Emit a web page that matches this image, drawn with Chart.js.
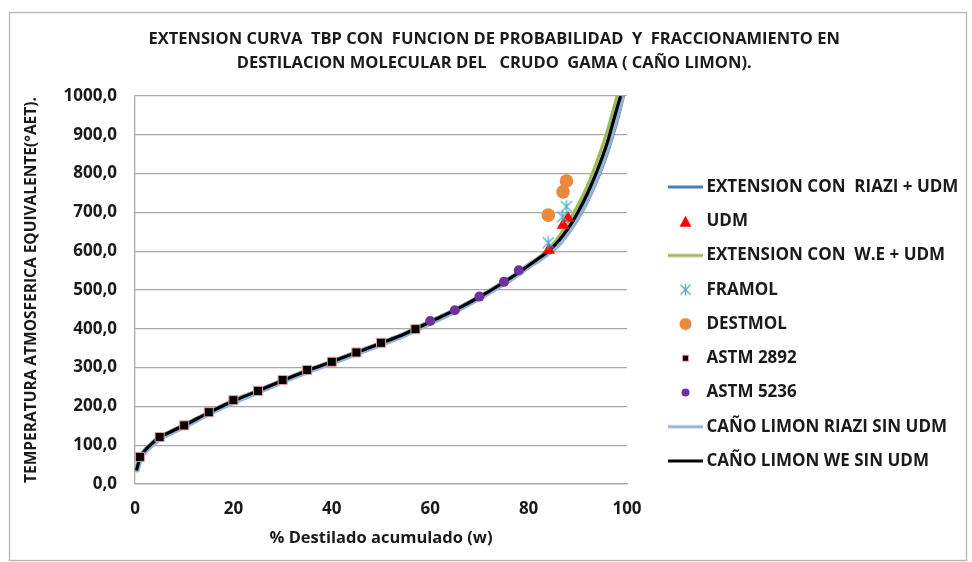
<!DOCTYPE html>
<html>
<head>
<meta charset="utf-8">
<script src="https://cdn.jsdelivr.net/npm/chart.js@4/dist/chart.umd.min.js"></script>
<style>
  html, body { margin: 0; padding: 0; background: #fff; }
  #wrap { width: 972px; height: 562px; position: relative; }
</style>
</head>
<body>
<div id="wrap"><canvas id="chart" width="972" height="562"></canvas></div>
<script>
// ---- Text ----
const titleLines = [
  'EXTENSION CURVA  TBP CON  FUNCION DE PROBABILIDAD  Y  FRACCIONAMIENTO EN',
  'DESTILACION MOLECULAR DEL   CRUDO  GAMA ( CAÑO LIMON).'
];
const xAxisTitle = '% Destilado acumulado (w)';
const yAxisTitle = 'TEMPERATURA ATMOSFERICA EQUIVALENTE(°AET).';
const seriesNames = [
  'EXTENSION CON  RIAZI + UDM',
  'UDM',
  'EXTENSION CON  W.E + UDM',
  'FRAMOL',
  'DESTMOL',
  'ASTM 2892',
  'ASTM 5236',
  'CAÑO LIMON RIAZI SIN UDM',
  'CAÑO LIMON WE SIN UDM'
];

// ---- Axis ranges / ticks ----
const xTicks = [0, 20, 40, 60, 80, 100];
const yTicks = [0, 100, 200, 300, 400, 500, 600, 700, 800, 900, 1000];

// ---- Curves (% destilado, °C AET) ----
const riaziUdmX = [0.3, 1, 2, 3, 5, 7.5, 10, 15, 20, 25, 30, 35, 40, 45, 50, 55, 60, 65, 70, 75, 78, 80, 82, 84, 86, 88, 90, 92, 94, 96, 98, 99.3];
const riaziUdmT = [33, 64, 84, 97, 118, 134, 149, 182, 212, 238, 265, 290, 313, 337, 361, 386, 415, 445, 479, 516, 541, 560, 576, 593, 614, 645, 682, 728, 785, 852, 935, 1000];

const weUdmX = [0.3, 1, 2, 3, 5, 7.5, 10, 15, 20, 25, 30, 35, 40, 45, 50, 55, 60, 65, 70, 75, 78, 80, 82, 84, 86, 88, 89, 90, 92, 94, 96, 97, 98];
const weUdmT = [30, 67, 88, 101, 122, 138, 153, 186, 216, 242, 269, 294, 317, 341, 365, 390, 420, 450, 484, 522, 547, 566, 584, 605, 635, 673, 695, 718, 770, 835, 910, 955, 1000];

const riaziSinX = [0.3, 1, 2, 3, 5, 7.5, 10, 15, 20, 25, 30, 35, 40, 45, 50, 55, 60, 65, 70, 75, 78, 80, 82, 84, 86, 88, 90, 92, 94, 96, 97, 98, 99];
const riaziSinT = [33, 64, 84, 97, 118, 134, 149, 182, 212, 238, 265, 290, 313, 337, 361, 386, 416, 446, 480, 518, 543, 562, 578, 596, 618, 650, 690, 738, 797, 868, 910, 955, 1000];

const weSinX = [0.3, 1, 2, 3, 5, 7.5, 10, 15, 20, 25, 30, 35, 40, 45, 50, 55, 60, 65, 70, 75, 78, 80, 82, 84, 86, 88, 90, 92, 94, 96, 97, 98, 98.7];
const weSinT = [35, 66, 86, 99, 120, 136, 151, 184, 214, 240, 267, 292, 315, 339, 363, 388, 418, 448, 482, 520, 545, 563, 581, 600, 625, 658, 700, 750, 810, 880, 925, 970, 1000];

// ---- Measured points ----
const udmX = [84.1, 87, 88];
const udmT = [603, 667, 685];
const framolX = [84, 86.9, 87.7];
const framolT = [622, 689, 715];
const destmolX = [84, 87, 87.7];
const destmolT = [693, 753, 781];
const astm2892X = [1, 5, 10, 15, 20, 25, 30, 35, 40, 45, 50, 57];
const astm2892T = [70, 121, 151, 185, 216, 240, 268, 294, 315, 339, 364, 399];
const astm5236X = [60, 65, 70, 75, 78];
const astm5236T = [420, 448, 483, 521, 551];

const pts = (xs, ys) => xs.map((x, i) => ({ x: x, y: ys[i] }));

// ---- Styling ----
const FONT = '"Open Sans"';
const TEXT = '#1a1a1a';
const GRID = '#a8a8a8';
const C_RIAZI = '#4a7ebb';
const C_WE = '#9bbb59';
const C_RIAZI_SIN = '#95b3d7';
const C_WE_SIN = '#000000';
const C_UDM = '#ff0000';
const C_FRAMOL = '#4bacc6';
const C_DESTMOL = '#e8893c';
const C_2892_FILL = '#000000';
const C_2892_EDGE = '#e3a09e';
const C_5236 = '#7030a0';

function icon(w, h, paint) {
  const c = document.createElement('canvas');
  c.width = w; c.height = h;
  paint(c.getContext('2d'), w, h);
  return c;
}
function lineIcon(color, width) {
  return icon(35, 8, (g, w, h) => {
    g.strokeStyle = color; g.lineWidth = width;
    g.beginPath(); g.moveTo(0, h / 2); g.lineTo(w, h / 2); g.stroke();
  });
}
function asteriskIcon(size, color) {
  return icon(size, size, (g, w, h) => {
    g.strokeStyle = color; g.lineWidth = 1.3;
    const m = 1.5;
    g.beginPath();
    g.moveTo(m, m); g.lineTo(w - m, h - m);
    g.moveTo(w - m, m); g.lineTo(m, h - m);
    g.moveTo(w / 2, 0.5); g.lineTo(w / 2, h - 0.5);
    g.stroke();
  });
}
function triangleIcon(size, color) {
  return icon(size, size, (g, w, h) => {
    g.fillStyle = color;
    g.beginPath(); g.moveTo(w / 2, 1); g.lineTo(w - 0.5, h - 1); g.lineTo(0.5, h - 1); g.closePath(); g.fill();
  });
}
function circleIcon(size, color) {
  return icon(size, size, (g, w, h) => {
    g.fillStyle = color;
    g.beginPath(); g.arc(w / 2, h / 2, w / 2 - 0.5, 0, Math.PI * 2); g.fill();
  });
}
function squareIcon(size, fill, edge) {
  return icon(size, size, (g, w, h) => {
    g.fillStyle = fill; g.fillRect(1, 1, w - 2, h - 2);
    g.strokeStyle = edge; g.lineWidth = 1; g.strokeRect(1.5, 1.5, w - 3, h - 3);
  });
}

const framolMarker = asteriskIcon(14, C_FRAMOL);
const legendIcons = [
  lineIcon(C_RIAZI, 3),
  triangleIcon(13, C_UDM),
  lineIcon(C_WE, 3),
  asteriskIcon(13, C_FRAMOL),
  circleIcon(13, C_DESTMOL),
  squareIcon(9, C_2892_FILL, C_2892_EDGE),
  circleIcon(9, C_5236),
  lineIcon(C_RIAZI_SIN, 3),
  lineIcon(C_WE_SIN, 3)
];

// Legend font and right padding so the legend column sits at a fixed place
const LEGEND_SIZE = 17;
const measure = document.createElement('canvas').getContext('2d');
measure.font = `bold ${LEGEND_SIZE}px ${FONT}`;
const longest = Math.max(...seriesNames.map(s => measure.measureText(s).width));
const LEG_PAD = 17.25;
const LEG_BOX = 25;
const legendWidth = LEG_PAD + LEG_BOX + LEGEND_SIZE / 2 + longest + 10;
const legendLeft = 655.75;
const rightPad = 972 - legendLeft - legendWidth;

const lineBase = { showLine: true, pointRadius: 0, pointHoverRadius: 0, fill: false, cubicInterpolationMode: 'monotone' };

const outerFrame = {
  id: 'outerFrame',
  beforeDraw(chart) {
    const g = chart.ctx;
    g.save();
    g.fillStyle = '#ffffff';
    g.fillRect(0, 0, chart.width, chart.height);
    g.strokeStyle = '#b4b4b4';
    g.lineWidth = 1.3;
    g.strokeRect(9.5, 12.5, 957, 548);
    g.restore();
  }
};

new Chart(document.getElementById('chart'), {
  type: 'scatter',
  data: {
    datasets: [
      { ...lineBase, label: seriesNames[0], data: pts(riaziUdmX, riaziUdmT), borderColor: C_RIAZI, borderWidth: 3, order: 14 },
      { label: seriesNames[1], data: pts(udmX, udmT), pointStyle: 'triangle', pointRadius: 7.3, backgroundColor: C_UDM, borderColor: C_UDM, borderWidth: 0, order: 5 },
      { ...lineBase, label: seriesNames[2], data: pts(weUdmX, weUdmT), borderColor: C_WE, borderWidth: 3.2, order: 13 },
      { label: seriesNames[3], data: pts(framolX, framolT), pointStyle: framolMarker, pointRadius: 7, backgroundColor: C_FRAMOL, borderColor: C_FRAMOL, order: 4 },
      { label: seriesNames[4], data: pts(destmolX, destmolT), pointStyle: 'circle', pointRadius: 6.8, backgroundColor: C_DESTMOL, borderColor: C_DESTMOL, borderWidth: 0, order: 3 },
      { label: seriesNames[5], data: pts(astm2892X, astm2892T), pointStyle: 'rect', pointRadius: 6.4, backgroundColor: C_2892_FILL, borderColor: C_2892_EDGE, borderWidth: 1, order: 2 },
      { label: seriesNames[6], data: pts(astm5236X, astm5236T), pointStyle: 'circle', pointRadius: 5, backgroundColor: C_5236, borderColor: C_5236, borderWidth: 0, order: 1 },
      { ...lineBase, label: seriesNames[7], data: pts(riaziSinX, riaziSinT), borderColor: C_RIAZI_SIN, borderWidth: 6, order: 12 },
      { ...lineBase, label: seriesNames[8], data: pts(weSinX, weSinT), borderColor: C_WE_SIN, borderWidth: 3.2, order: 11 }
    ]
  },
  options: {
    responsive: false,
    devicePixelRatio: 1,
    animation: false,
    events: [],
    layout: { padding: { left: 20, right: rightPad, top: 14, bottom: 10 } },
    scales: {
      x: {
        type: 'linear',
        min: 0, max: 100,
        afterBuildTicks: s => { s.ticks = xTicks.map(v => ({ value: v })); },
        afterFit: s => { s.height = 68; },
        grid: { display: false },
        border: { display: true, color: GRID, width: 1.3 },
        ticks: { padding: 7, color: TEXT, font: { family: FONT, weight: 'bold', size: 17 } },
        title: { display: true, text: xAxisTitle, color: TEXT, padding: { top: 0, bottom: 4 }, font: { family: FONT, weight: 'bold', size: 16.5 } }
      },
      y: {
        type: 'linear',
        min: 0, max: 1000,
        afterBuildTicks: s => { s.ticks = yTicks.map(v => ({ value: v })); },
        afterFit: s => { s.width = 115; },
        grid: { color: GRID, lineWidth: 1.3, drawTicks: false },
        border: { display: true, color: GRID, width: 1.3 },
        ticks: {
          padding: 18, color: TEXT, font: { family: FONT, weight: 'bold', size: 17 },
          callback: v => v.toFixed(1).replace('.', ',')
        },
        title: { display: true, text: yAxisTitle, color: TEXT, padding: { top: 2, bottom: 0 }, font: { family: FONT, weight: 'bold', size: 15.5 } }
      },
      gap: {
        type: 'linear',
        position: 'right',
        display: true,
        afterFit: s => { s.width = 28.75; },
        grid: { display: false },
        border: { display: false },
        ticks: { display: false }
      }
    },
    plugins: {
      title: {
        display: true,
        text: titleLines,
        color: TEXT,
        font: { family: FONT, weight: 'bold', size: 16.5, lineHeight: 24 / 16.5 },
        padding: { top: 13, bottom: 21 }
      },
      legend: {
        position: 'right',
        align: 'center',
        maxWidth: 600,
        title: { display: true, text: ' ', font: { size: 10, lineHeight: 1 }, padding: { top: 72, bottom: 0 } },
        labels: {
          usePointStyle: true,
          pointStyleWidth: LEG_BOX,
          padding: LEG_PAD,
          color: TEXT,
          font: { family: FONT, weight: 'bold', size: LEGEND_SIZE, lineHeight: 1.2 },
          generateLabels: chart => chart.data.datasets.map((ds, i) => ({
            text: ds.label,
            pointStyle: legendIcons[i],
            fillStyle: 'rgba(0,0,0,0)',
            strokeStyle: 'rgba(0,0,0,0)',
            lineWidth: 0,
            hidden: !chart.isDatasetVisible(i),
            datasetIndex: i,
            fontColor: TEXT
          }))
        }
      },
      tooltip: { enabled: false }
    }
  },
  plugins: [outerFrame]
});
</script>
</body>
</html>
